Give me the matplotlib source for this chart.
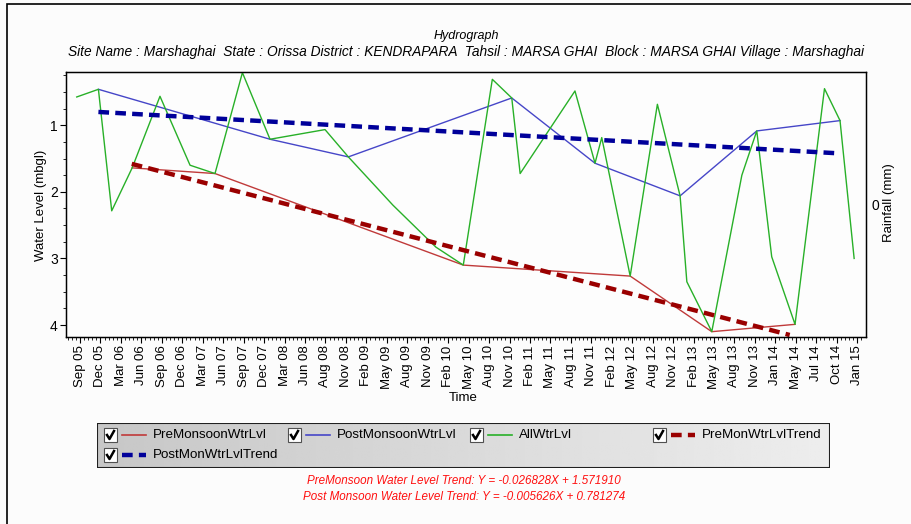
import numpy as np
import matplotlib.pyplot as plt
from matplotlib.patches import Rectangle

plt.rcParams['font.family'] = ['Liberation Sans', 'DejaVu Sans']

# tick labels of the time axis (evenly spaced, one unit per label)
months = ["Sep 05", "Dec 05", "Mar 06", "Jun 06", "Sep 06", "Dec 06", "Mar 07", "Jun 07",
          "Sep 07", "Dec 07", "Mar 08", "Jun 08", "Aug 08", "Nov 08", "Feb 09", "May 09",
          "Aug 09", "Nov 09", "Feb 10", "May 10", "Aug 10", "Nov 10", "Feb 11", "May 11",
          "Aug 11", "Nov 11", "Feb 12", "May 12", "Aug 12", "Nov 12", "Feb 13", "May 13",
          "Aug 13", "Nov 13", "Jan 14", "May 14", "Jul 14", "Oct 14", "Jan 15"]

# all water level readings (position on time axis, level in mbgl)
all_t = [-0.16, 0.90, 1.55, 2.55, 3.91, 5.38, 6.60, 7.94, 9.29, 11.98, 13.12, 15.3, 17.4,
         18.74, 20.16, 21.11, 21.52, 24.2, 25.18, 25.51, 26.9, 28.23, 29.34, 29.67, 30.89,
         32.36, 33.09, 33.82, 34.96, 36.40, 37.16, 37.85]
all_lvl = [0.575, 0.46, 2.285, 1.64, 0.565, 1.60, 1.725, 0.21, 1.21, 1.065, 1.475, 2.2, 2.83,
           3.10, 0.31, 0.59, 1.725, 0.485, 1.57, 1.185, 3.265, 0.685, 2.06, 3.35, 4.1,
           1.75, 1.085, 2.975, 3.99, 0.45, 0.93, 3.0]

pre_t = [2.55, 6.60, 18.74, 26.9, 30.89, 34.96]
pre_lvl = [1.64, 1.725, 3.10, 3.265, 4.1, 3.99]

post_t = [0.90, 9.29, 13.12, 21.11, 25.18, 29.34, 33.09, 37.16]
post_lvl = [0.46, 1.21, 1.475, 0.59, 1.57, 2.06, 1.085, 0.93]

# trend lines (end points)
pre_trend_t = [2.53, 34.7]
pre_trend_lvl = [1.58, 4.15]
post_trend_t = [0.9, 37.0]
post_trend_lvl = [0.80, 1.42]

pre_eq = "PreMonsoon Water Level Trend: Y = -0.026828X + 1.571910"
post_eq = "Post Monsoon Water Level Trend: Y = -0.005626X + 0.781274"
subtitle = ("Site Name : Marshaghai  State : Orissa District : KENDRAPARA  Tahsil : MARSA GHAI  "
            "Block : MARSA GHAI Village : Marshaghai")

c_pre = "#c03a3a"
c_post = "#4646c8"
c_all = "#28b028"
c_pre_tr = "#9a0000"
c_post_tr = "#00009a"

W, H = 911, 524
fig = plt.figure(figsize=(W / 100, H / 100), dpi=100, facecolor="#fcfcfc")

# outer frame
fig.patches.append(Rectangle((7 / W, -0.1), 1.2, 1.1 - 4 / H, transform=fig.transFigure,
                             fill=False, edgecolor="black", lw=1.2))

ax = fig.add_axes([66 / W, 1 - 337 / H, 800 / W, 265 / H])
ax.set_facecolor("#fdfdfd")

ax.plot(pre_t, pre_lvl, color=c_pre, lw=1)
ax.plot(post_t, post_lvl, color=c_post, lw=1)
ax.plot(all_t, all_lvl, color=c_all, lw=1)
ax.plot(pre_trend_t, pre_trend_lvl, color=c_pre_tr, lw=3.2, dashes=(2.4, 1.4))
ax.plot(post_trend_t, post_trend_lvl, color=c_post_tr, lw=3.2, dashes=(2.4, 1.4))

ax.set_xlim(-0.685, 38.43)
ax.set_ylim(4.18, 0.2)
ax.set_xticks(range(len(months)))
ax.set_xticklabels(months, rotation=90, fontsize=9.5)
ax.set_xticks(np.arange(-0.6, 38.4, 0.2), minor=True)
ax.set_yticks([1, 2, 3, 4])
ax.set_yticklabels(["1", "2", "3", "4"], fontsize=10)
ax.set_yticks(np.arange(0.25, 4.2, 0.25), minor=True)
ax.tick_params(axis="both", which="major", direction="out", length=4, width=0.8, pad=2)
ax.tick_params(axis="both", which="minor", direction="out", length=2.5, width=0.6)
for s in ax.spines.values():
    s.set_linewidth(1)

ax2 = ax.twinx()
ax2.set_ylim(-1, 1)
ax2.set_yticks([0])
ax2.set_yticklabels(["0"], fontsize=10)
ax2.tick_params(axis="y", length=0, pad=4)

fig.text(41 / W, 1 - 205 / H, "Water Level (mbgl)", rotation=90, ha="center", va="center",
         fontsize=9.5)
fig.text(889 / W, 1 - 203 / H, "Rainfall (mm)", rotation=90, ha="center", va="center",
         fontsize=9.5)
fig.text(463 / W, 1 - 398 / H, "Time", ha="center", va="center", fontsize=9.5)

narrow = ['Liberation Sans Narrow', 'Liberation Sans', 'DejaVu Sans']
fig.text(466 / W, 1 - 36 / H, "Hydrograph", ha="center", va="center", fontsize=9,
         style="italic", family=narrow)
fig.text(466 / W, 1 - 52 / H, subtitle, ha="center", va="center", fontsize=9.9,
         style="italic", family=narrow)
fig.text(464 / W, 1 - 481 / H, pre_eq, ha="center", va="center", fontsize=8.4,
         style="italic", family=narrow, color="#ff1010")
fig.text(464 / W, 1 - 497 / H, post_eq, ha="center", va="center", fontsize=8.4,
         style="italic", family=narrow, color="#ff1010")

# legend box, drawn in pixel units
lx0, lx1, ly0, ly1 = 97, 830, 423, 468
lax = fig.add_axes([lx0 / W, 1 - ly1 / H, (lx1 - lx0) / W, (ly1 - ly0) / H])
lax.set_xlim(lx0, lx1)
lax.set_ylim(ly1, ly0)
lax.axis("off")
grad = np.linspace(0.78, 0.93, 256).reshape(1, -1)
lax.imshow(grad, extent=(lx0, lx1, ly1, ly0), aspect="auto", cmap="gray", vmin=0, vmax=1,
           zorder=0)
lax.add_patch(Rectangle((lx0, ly0), lx1 - lx0, ly1 - ly0, fill=False, edgecolor="#202020",
                        lw=1.5, zorder=5))

leg_names = ["PreMonsoonWtrLvl", "PostMonsoonWtrLvl", "AllWtrLvl", "PreMonWtrLvlTrend",
             "PostMonWtrLvlTrend"]
leg_colors = [c_pre, c_post, c_all, c_pre_tr, c_post_tr]
leg_dashed = [False, False, False, True, True]
leg_x = [104, 288, 470, 653, 104]
leg_y = [435, 435, 435, 435, 455]
for name, col, dsh, x, y in zip(leg_names, leg_colors, leg_dashed, leg_x, leg_y):
    lax.add_patch(Rectangle((x, y - 7), 13, 14, facecolor="white", edgecolor="#505050",
                            lw=0.8, zorder=2))
    lax.plot([x + 3, x + 5.5, x + 10], [y, y + 4, y - 4], color="black", lw=1.8, zorder=3)
    if dsh:
        lax.plot([x + 18, x + 42], [y, y], color=col, lw=3.2, dashes=(2.4, 1.4), zorder=3)
    else:
        lax.plot([x + 18, x + 42], [y, y], color=col, lw=1.2, zorder=3)
    lax.text(x + 49, y, name, ha="left", va="center", fontsize=9.6, zorder=3)

fig.savefig("out.png", dpi=100, facecolor=fig.get_facecolor())
